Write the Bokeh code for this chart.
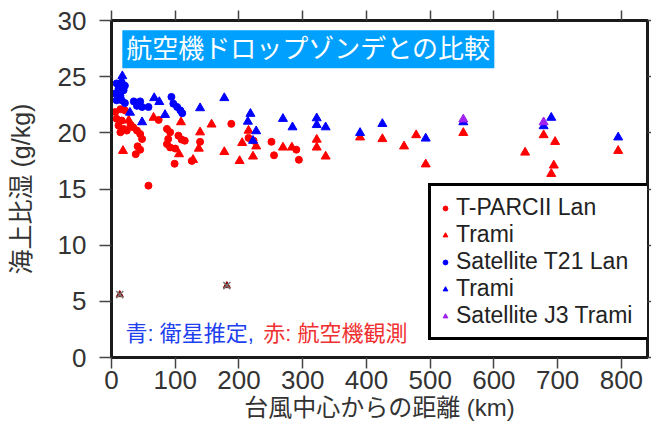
from bokeh.plotting import figure
from bokeh.models import (Range1d, LinearAxis, FixedTicker, Legend, LegendItem, Label)
from bokeh.embed import file_html
from bokeh.resources import INLINE

# ---- data ----
x_ticks = [0, 100, 200, 300, 400, 500, 600, 700, 800]
y_ticks = [0, 5, 10, 15, 20, 25, 30]

air_lan_x = [6, 14, 21, 8, 16, 11, 19, 14, 24, 30, 34, 40, 45, 48, 41, 45, 38, 58, 74, 87, 92, 89, 87, 92,
             100, 105, 110, 115, 99, 126, 139, 188, 215, 223, 251, 255, 290, 294]
air_lan_y = [21.85, 22.1, 22.0, 21.25, 21.1, 20.65, 20.35, 20.05, 20.2, 20.7, 20.5, 20.2, 19.9, 19.45, 18.8,
             18.5, 18.1, 15.3, 21.15, 20.35, 20.05, 19.45, 19.0, 18.7, 18.6, 19.75, 19.4, 19.3, 17.25, 17.5,
             19.2, 20.8, 19.55, 19.3, 19.2, 18.0, 18.5, 17.6]

air_trami_x = [27, 18, 66, 109, 106, 128, 139, 137, 157, 177, 201, 215, 205, 227, 222, 269, 283, 322, 322,
               336, 390, 425, 459, 478, 493, 552, 649, 678, 696, 694, 690, 795]
air_trami_y = [21.1, 18.4, 21.35, 20.95, 18.1, 17.6, 20.05, 18.6, 20.75, 18.3, 17.5, 20.2, 19.1, 18.8, 17.9,
               18.7, 18.7, 19.4, 18.7, 17.9, 19.6, 19.45, 18.8, 19.8, 17.2, 20.0, 18.25, 19.8, 19.2, 17.1,
               16.35, 18.4]

sat_lan_x = [8, 16, 21, 11, 19, 6, 14, 8, 16, 21, 35, 45, 40, 48, 58, 94, 97, 103, 108, 111]
sat_lan_y = [24.4, 24.5, 24.2, 23.9, 23.8, 23.5, 23.3, 22.9, 22.9, 22.65, 22.8, 22.8, 22.4, 22.3, 22.3,
             23.2, 22.6, 22.3, 22.0, 21.75]

sat_trami_x = [17, 29, 48, 67, 75, 84, 139, 177, 218, 214, 227, 222, 269, 284, 322, 322, 336, 390, 425,
               493, 552, 678, 690, 795]
sat_trami_y = [25.05, 21.8, 20.95, 23.1, 22.75, 21.6, 22.2, 23.1, 21.7, 21.0, 20.15, 19.3, 21.25, 20.5,
               21.3, 20.7, 20.5, 20.0, 20.8, 19.5, 20.95, 20.6, 21.35, 19.6]

j3_trami_x = [552, 678]
j3_trami_y = [21.2, 20.95]

flag_x = [13, 181]
flag_y = [5.6, 6.4]

title_text = "航空機ドロップゾンデとの比較"
x_label = "台風中心からの距離 (km)"
y_label = "海上比湿 (g/kg)"
note_blue = "青: 衛星推定,"
note_red = "赤: 航空機観測"
legend_labels = ["T-PARCII Lan", "Trami", "Satellite T21 Lan", "Trami", "Satellite J3 Trami"]

FONT = "Liberation Sans, Noto Sans CJK JP"
RED = "#ff0000"
BLUE = "#0000ff"
PURPLE = "#a020f0"
FRAME = "#1a1a1a"
TXT = "#333333"

p = figure(width=651, height=433, output_backend="svg", toolbar_location=None,
           x_range=Range1d(0, 841), y_range=Range1d(0, 30),
           x_axis_label=x_label, y_axis_label=y_label,
           min_border_left=111, min_border_top=20, min_border_right=0, min_border_bottom=76)

p.grid.visible = False
p.outline_line_color = FRAME
p.outline_line_width = 3
p.background_fill_color = "white"
p.border_fill_color = "white"

p.xaxis.ticker = FixedTicker(ticks=x_ticks)
p.yaxis.ticker = FixedTicker(ticks=y_ticks)
for ax in (p.xaxis[0], p.yaxis[0]):
    ax.axis_line_color = FRAME
    ax.axis_line_width = 3
    ax.major_tick_in = 0
    ax.minor_tick_out = 0
    ax.minor_tick_in = 0
    ax.major_tick_line_color = "#444444"
    ax.major_tick_line_width = 1.5
    ax.major_label_text_font = "Liberation Sans"
    ax.major_label_text_font_size = "26px"
    ax.major_label_text_color = TXT
    ax.axis_label_text_font = FONT
    ax.axis_label_text_font_style = "normal"
    ax.axis_label_text_color = TXT
p.xaxis.major_tick_out = 11
p.yaxis.major_tick_out = 12
p.xaxis.major_label_standoff = 2
p.yaxis.major_label_standoff = 13
p.xaxis.axis_label_text_font_size = "24px"
p.yaxis.axis_label_text_font_size = "25px"
p.xaxis.axis_label_standoff = 2
p.yaxis.axis_label_standoff = 20

blank_x = {t: "" for t in x_ticks}
blank_y = {t: "" for t in y_ticks}
top = LinearAxis(ticker=FixedTicker(ticks=x_ticks), major_tick_out=10, major_tick_in=0,
                 minor_tick_out=0, minor_tick_in=0, major_label_overrides=blank_x,
                 major_label_text_font_size="1px", major_label_standoff=0,
                 axis_line_color=FRAME, axis_line_width=3,
                 major_tick_line_color="#444444", major_tick_line_width=1.5)
right = LinearAxis(ticker=FixedTicker(ticks=y_ticks), major_tick_out=4, major_tick_in=0,
                   minor_tick_out=0, minor_tick_in=0, major_label_overrides=blank_y,
                   major_label_text_font_size="1px", major_label_standoff=0,
                   axis_line_color=FRAME, axis_line_width=3,
                   major_tick_line_color="#444444", major_tick_line_width=1.5)
p.add_layout(top, "above")
p.add_layout(right, "right")

r1 = p.scatter(air_lan_x, air_lan_y, marker="circle", size=7, fill_color=RED, line_color=RED)
r2 = p.scatter(air_trami_x, air_trami_y, marker="triangle", size=9, fill_color=RED, line_color=RED)
r3 = p.scatter(sat_lan_x, sat_lan_y, marker="circle", size=7, fill_color=BLUE, line_color=BLUE)
r4 = p.scatter(sat_trami_x, sat_trami_y, marker="triangle", size=9, fill_color=BLUE, line_color=BLUE)
r5 = p.scatter(j3_trami_x, j3_trami_y, marker="triangle", size=9, fill_color=PURPLE, line_color=PURPLE)
p.scatter(flag_x, flag_y, marker="triangle", size=7, fill_color="#8b0000", line_color="#8b0000")
p.scatter(flag_x, flag_y, marker="x", size=10, line_color="#777777", line_width=1.5)

legend = Legend(items=[LegendItem(label=lab, renderers=[r]) for lab, r in
                       zip(legend_labels, [r1, r2, r3, r4, r5])],
                location=(317, 17), orientation="vertical",
                label_text_font="Liberation Sans", label_text_font_size="23px",
                label_text_color="#222222", glyph_width=12, glyph_height=26,
                label_height=26, label_width=187, label_standoff=5, spacing=0, padding=8,
                margin=0, border_line_color="#000000", border_line_width=3, border_line_alpha=1,
                background_fill_color="white", background_fill_alpha=1)
p.add_layout(legend)

p.add_layout(Label(x=17, y=27.45, text=title_text, text_font=FONT, text_font_size="26px",
                   text_color="white", text_baseline="middle", text_align="left",
                   background_fill_color="#00a0ff", padding=4))
p.add_layout(Label(x=22, y=2.1, text=note_blue, text_font=FONT, text_font_size="22px",
                   text_color="#2040f0", text_baseline="middle", text_align="left"))
p.add_layout(Label(x=238, y=2.1, text=note_red, text_font=FONT, text_font_size="22px",
                   text_color="#f03030", text_baseline="middle", text_align="left"))

open("out.html", "w").write(file_html(p, INLINE))
